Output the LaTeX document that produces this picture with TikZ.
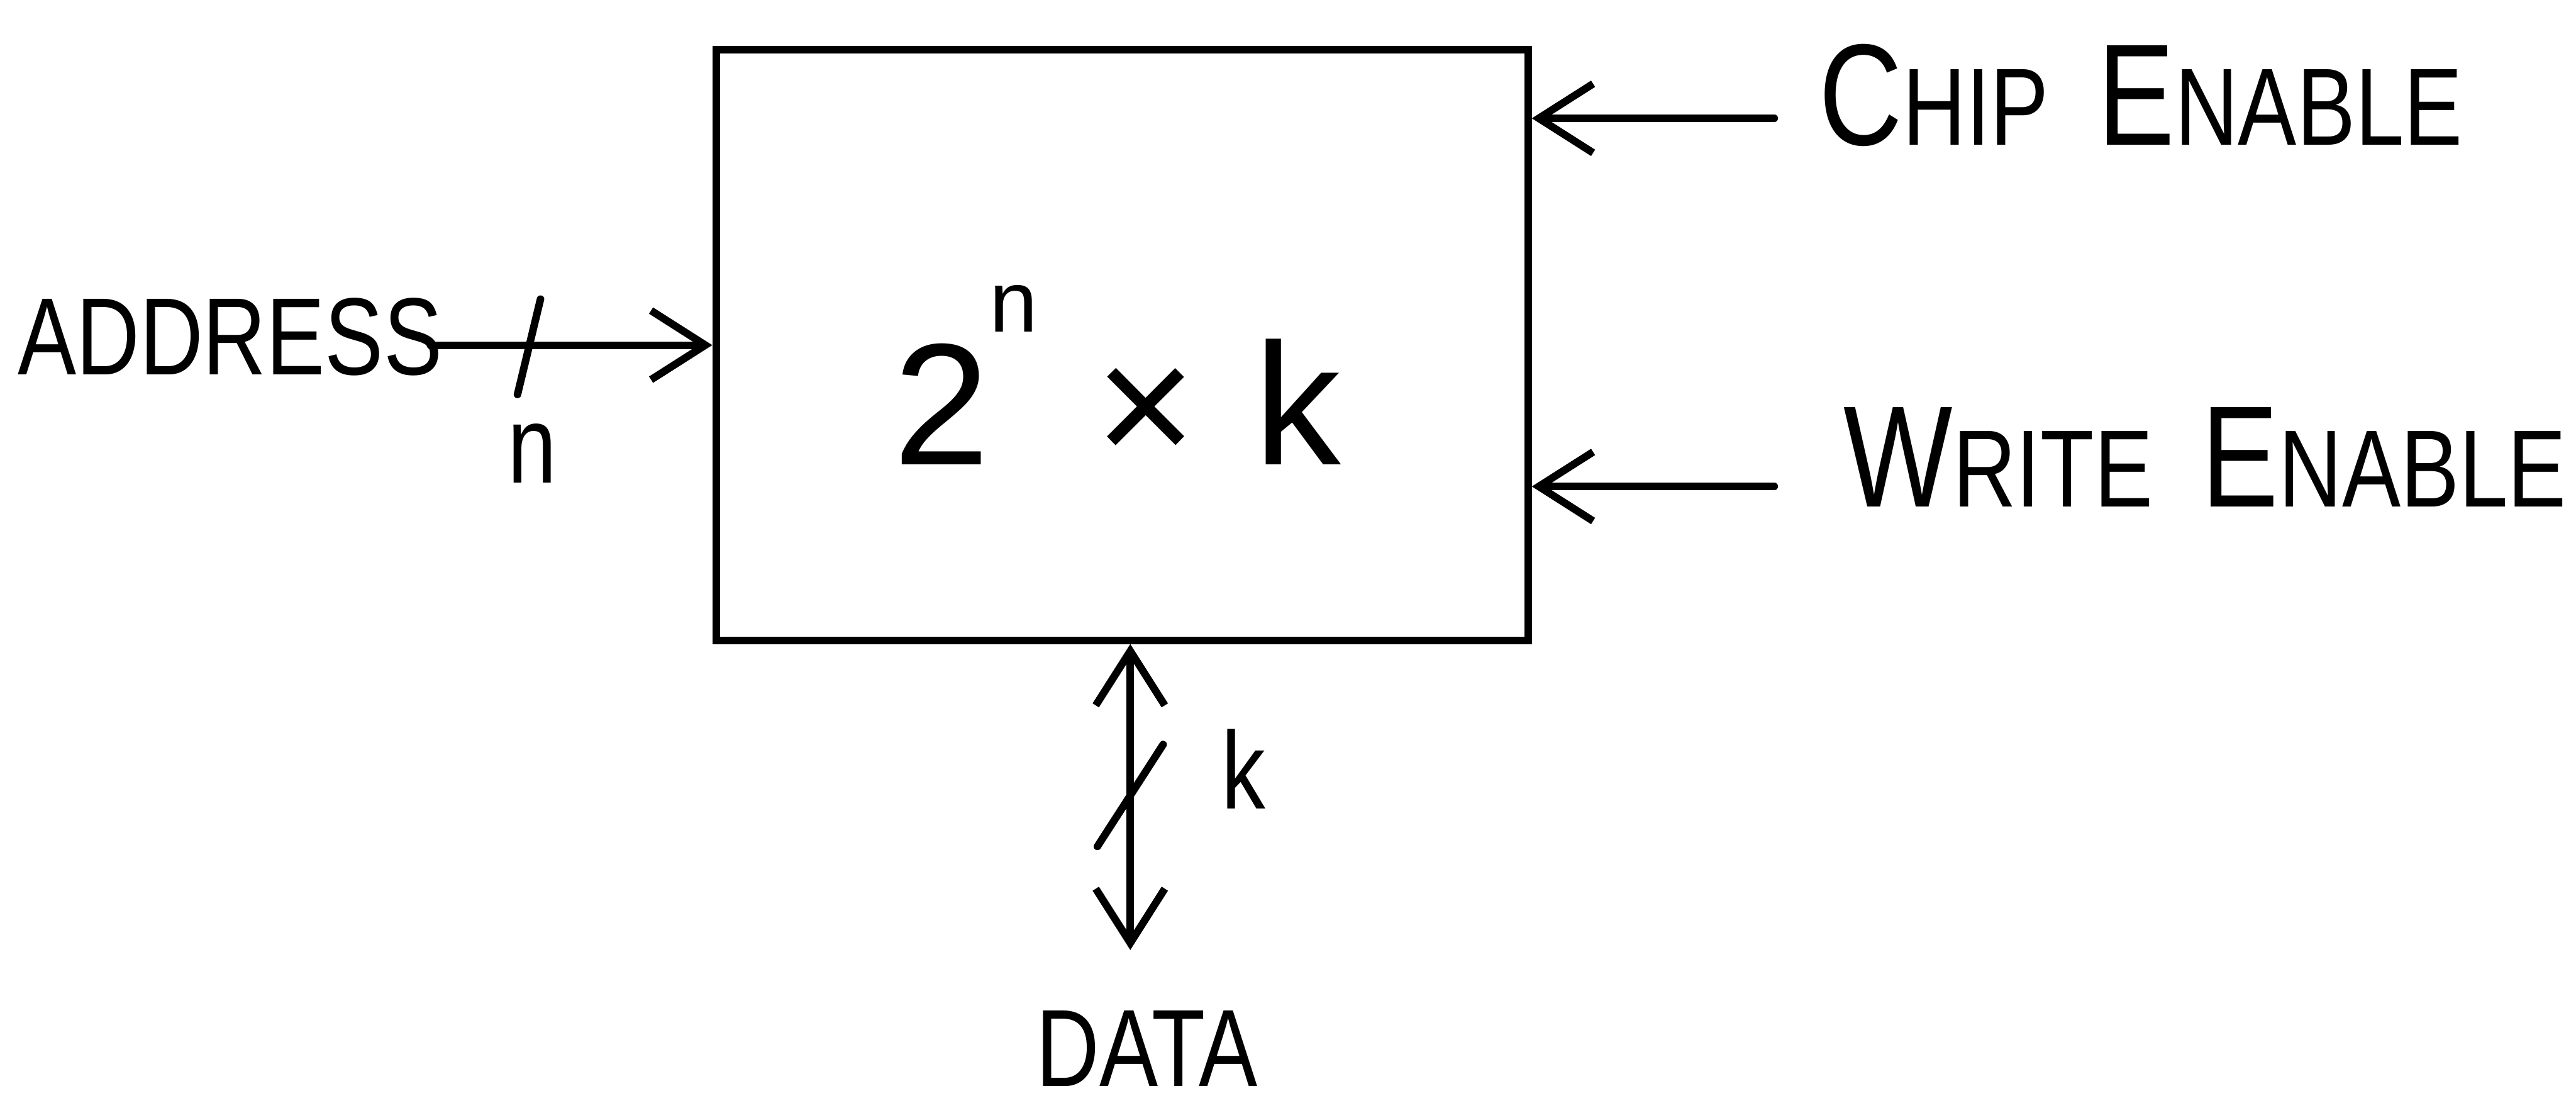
\documentclass[tikz,border=0pt]{standalone}
\usepackage{fontspec}
\setmainfont{Liberation Sans}
\newfontfamily\narrowsans[FakeStretch=0.8]{Liberation Sans}
\usetikzlibrary{arrows.meta,calc}
\newcommand{\initcap}[1]{{\fontsize{25}{27}\selectfont #1}}
\begin{document}
\begin{tikzpicture}[x=0.01cm, y=-0.01cm, line width=1.3pt, line cap=round,
  tip/.tip={Straight Barb[length=3.3mm,width=4.2mm,line width=1.3pt]},
  barb/.style={-tip},
  bibarb/.style={tip-tip},
  label/.style={font=\narrowsans\fontsize{19}{21}\selectfont, inner sep=0pt}]
\useasboundingbox (0,0) rectangle (1568,674);

% memory block
\node[draw, minimum width=4.94cm, minimum height=3.59cm, inner sep=0pt] (mem) at (683,210) {};
\node[font=\fontsize{30}{32}\selectfont] (size) at (680,228)
  {2\raisebox{1.45ex}{\fontsize{15}{17}\selectfont n}\,\,×\,\,k};

% address bus, n bits wide
\node[label] (addr) at (140,205) {ADDRESS};
\coordinate (addrin) at (262,210);
\draw[barb] (addrin) -- (mem.west |- addrin);
\coordinate (nslash) at (322,210);
\draw ($(nslash)+(-7,30)$) -- ($(nslash)+(7,-28)$);
\node[label] (nlab) at (324,276) {n};

% control inputs
\node[label, anchor=west] (ce) at (1105,58) {\initcap{C}HIP\ \ \initcap{E}NABLE};
\coordinate (cein) at (1080,72);
\draw[barb] (cein) -- (mem.east |- cein);

\node[label, anchor=west] (we) at (1120,278) {\initcap{W}RITE\ \ \initcap{E}NABLE};
\coordinate (wein) at (1080,296);
\draw[barb] (wein) -- (mem.east |- wein);

% bidirectional data bus, k bits wide
\coordinate (dataout) at (688,578);
\draw[bibarb] (mem.south -| dataout) -- (dataout);
\coordinate (kslash) at (688,485);
\draw ($(kslash)+(-20,30)$) -- ($(kslash)+(20,-32)$);
\node[label] (klab) at (757,468) {k};
\node[label] (data) at (698,638) {DATA};
\end{tikzpicture}
\end{document}
